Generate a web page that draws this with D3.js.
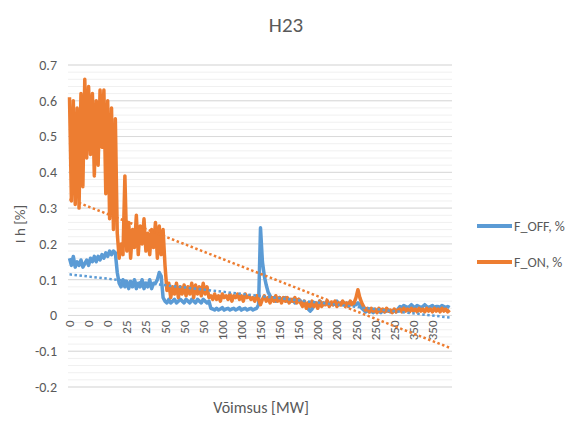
<!DOCTYPE html>
<html>
<head>
<meta charset="utf-8">
<script src="https://cdn.jsdelivr.net/npm/d3@7"></script>
<style>
  body { margin: 0; background: #fff; }
  text { font-family: Carlito, "Liberation Sans Narrow", Lato, sans-serif; fill: #595959; }
</style>
</head>
<body>
<div id="chart"></div>
<script>
// category labels shown on the x axis (every 10th point)
let xTickLabels = ["0","0","0","25","25","50","50","50","100","100","150","150","150","200","200","250","250","250","350","350"];
let yTicks = [-0.2, -0.1, 0, 0.1, 0.2, 0.3, 0.4, 0.5, 0.6, 0.7];
let seriesNames = ["F_OFF, %", "F_ON, %"];

// F_OFF, % values
let fOff = [
  0.16,0.14,0.165,0.135,0.15,0.14,0.155,0.135,0.145,0.155,0.14,0.16,0.15,0.165,0.15,0.165,0.155,0.17,0.16,0.175,0.165,0.18,0.17,0.18,
  0.175,0.12,0.09,0.08,0.1,0.08,0.095,0.075,0.095,0.08,0.1,0.075,0.09,0.08,0.1,0.075,0.09,0.08,0.1,0.075,0.09,0.09,0.1,0.12,0.11,0.05,0.04,0.035,
  0.045,0.035,0.04,0.045,0.035,0.04,0.045,0.04,0.035,0.045,0.04,0.035,0.045,0.04,0.035,0.045,0.04,0.035,0.045,0.04,0.035,0.04,
  0.02,0.018,0.015,0.02,0.015,0.018,0.022,0.015,0.018,0.02,0.015,0.018,0.02,0.015,0.018,0.022,0.015,0.018,0.02,0.015,0.018,0.02,0.015,0.018,0.02,0.03,
  0.245,0.15,0.11,0.085,0.065,0.055,0.045,0.05,0.04,0.045,0.05,0.04,0.045,0.05,0.04,0.045,0.04,0.045,0.035,0.04,0.045,
  0.04,0.035,0.03,0.025,0.018,0.012,0.018,0.03,0.035,0.03,0.04,0.035,0.03,0.035,0.04,0.03,0.035,0.03,0.035,0.04,0.03,0.035,0.03,0.035,0.03,0.035,0.03,0.035,0.03,
  0.03,0.035,0.03,0.02,
  0.015,0.01,0.015,0.01,0.012,0.008,0.015,0.01,0.012,0.008,0.015,0.01,0.012,0.015,0.01,0.012,0.015,0.01,0.018,
  0.025,0.022,0.028,0.025,0.022,0.025,0.03,0.025,0.022,0.028,0.025,0.022,0.025,0.03,0.025,0.022,0.025,0.028,0.022,0.025,0.025,0.022,0.028,0.025,0.022,0.025,0.022
];

// F_ON, % values
let fOn = [
  0.61,0.32,0.60,0.31,0.58,0.30,0.62,0.36,0.66,0.44,0.64,0.45,0.62,0.39,0.60,0.42,0.63,0.47,0.63,0.34,0.60,0.27,0.58,0.24,
  0.55,0.23,0.16,0.20,0.17,0.39,0.18,0.26,0.16,0.24,0.19,0.28,0.17,0.25,0.20,0.27,0.18,0.23,0.17,0.24,0.19,0.26,0.16,0.25,0.17,0.24,0.14,0.07,
  0.09,0.05,0.08,0.06,0.09,0.05,0.08,0.06,0.085,0.055,0.08,0.06,0.09,0.05,0.085,0.06,0.08,0.055,0.09,0.06,0.08,0.05,
  0.055,0.045,0.06,0.045,0.055,0.04,0.06,0.05,0.055,0.045,0.06,0.04,0.055,0.05,0.06,0.045,0.055,0.04,0.06,0.05,0.055,0.045,0.05,0.04,0.055,0.045,
  0.03,0.045,0.055,0.04,0.05,0.035,0.05,0.04,0.055,0.04,0.05,0.035,0.05,0.04,0.05,0.035,0.045,0.04,0.05,0.035,0.045,
  0.035,0.025,0.04,0.02,0.035,0.025,0.04,0.025,0.035,0.02,0.04,0.025,0.035,0.03,0.04,0.025,0.035,0.03,0.04,0.025,0.035,0.03,0.04,0.03,0.035,0.025,0.04,0.03,0.035,
  0.05,0.072,0.05,0.035,
  0.025,0.015,0.02,0.01,0.02,0.012,0.018,0.008,0.02,0.012,0.018,0.01,0.02,0.012,0.015,0.008,0.018,0.01,0.015,
  0.018,0.01,0.02,0.012,0.018,0.01,0.02,0.012,0.018,0.01,0.02,0.012,0.018,0.01,0.02,0.012,0.018,0.01,0.02,0.012,0.018,0.01,0.02,0.012,0.018,0.01,0.015
];

let colors = ["#5B9BD5", "#ED7D31"];

let width = 577, height = 421;
let svg = d3.select("#chart").append("svg")
  .attr("width", width)
  .attr("height", height);

let n = fOff.length;
let xScale = d3.scaleLinear().domain([0, n - 1]).range([69.5, 449.6]);
let yScale = d3.scaleLinear().domain([-0.2, 0.7]).range([387, 65]);
let plotLeft = 68, plotRight = 452;

// minor gridlines every 0.02, major every 0.1
let minor = d3.range(-0.2, 0.7001, 0.02);
svg.append("g").selectAll("line").data(minor).enter().append("line")
  .attr("x1", plotLeft).attr("x2", plotRight)
  .attr("y1", d => yScale(d)).attr("y2", d => yScale(d))
  .attr("stroke", "#f0f0f0").attr("stroke-width", 1);

svg.append("g").selectAll("line").data(yTicks).enter().append("line")
  .attr("x1", plotLeft).attr("x2", plotRight)
  .attr("y1", d => yScale(d)).attr("y2", d => yScale(d))
  .attr("stroke", "#d9d9d9").attr("stroke-width", 1);

// y axis labels
svg.append("g").selectAll("text").data(yTicks).enter().append("text")
  .attr("x", 57)
  .attr("y", d => yScale(d))
  .attr("dy", "0.35em")
  .style("text-anchor", "end")
  .style("font-size", "14px")
  .text(d => d === 0 ? "0" : d.toFixed(1));

// x axis labels, rotated, hanging just under the zero line
svg.append("g").selectAll("text").data(xTickLabels).enter().append("text")
  .attr("transform", (d, i) => "translate(" + xScale(i * 10) + "," + (yScale(0) + 5) + ") rotate(-90)")
  .attr("dy", "0.35em")
  .style("text-anchor", "end")
  .style("font-size", "13px")
  .text(d => d);

// series lines
let line = d3.line()
  .x((d, i) => xScale(i))
  .y(d => yScale(d));

[fOff, fOn].forEach(function(data, k) {
  svg.append("path")
    .attr("d", line(data))
    .attr("fill", "none")
    .attr("stroke", colors[k])
    .attr("stroke-width", 3.5)
    .attr("stroke-linejoin", "round");
});

// linear trendlines (least squares over the category index)
function trend(data) {
  let xs = data.map((d, i) => i);
  let mx = d3.mean(xs), my = d3.mean(data);
  let sxy = d3.sum(data, (d, i) => (i - mx) * (d - my));
  let sxx = d3.sum(xs, x => (x - mx) * (x - mx));
  let slope = sxy / sxx;
  return [[0, my - slope * mx], [n - 1, my + slope * (n - 1 - mx)]];
}

[fOff, fOn].forEach(function(data, k) {
  let t = trend(data);
  svg.append("line")
    .attr("x1", xScale(t[0][0])).attr("y1", yScale(t[0][1]))
    .attr("x2", xScale(t[1][0])).attr("y2", yScale(t[1][1]))
    .attr("stroke", colors[k])
    .attr("stroke-width", 2.5)
    .attr("stroke-dasharray", "2.5 2.5");
});

// title
svg.append("text")
  .attr("x", 286).attr("y", 32)
  .style("text-anchor", "middle")
  .style("font-size", "21px")
  .text("H23");

// axis titles
svg.append("text")
  .attr("transform", "translate(25,224) rotate(-90)")
  .style("text-anchor", "middle")
  .style("font-size", "15px")
  .text("I h [%]");

svg.append("text")
  .attr("x", 261).attr("y", 413)
  .style("text-anchor", "middle")
  .style("font-size", "16px")
  .text("Võimsus [MW]");

// legend
let legend = svg.append("g");
seriesNames.forEach(function(name, k) {
  let ly = 226 + k * 36;
  legend.append("line")
    .attr("x1", 477).attr("x2", 512)
    .attr("y1", ly).attr("y2", ly)
    .attr("stroke", colors[k])
    .attr("stroke-width", 4);
  legend.append("text")
    .attr("x", 514).attr("y", ly)
    .attr("dy", "0.35em")
    .style("font-size", "14px")
    .text(name);
});
</script>
</body>
</html>
